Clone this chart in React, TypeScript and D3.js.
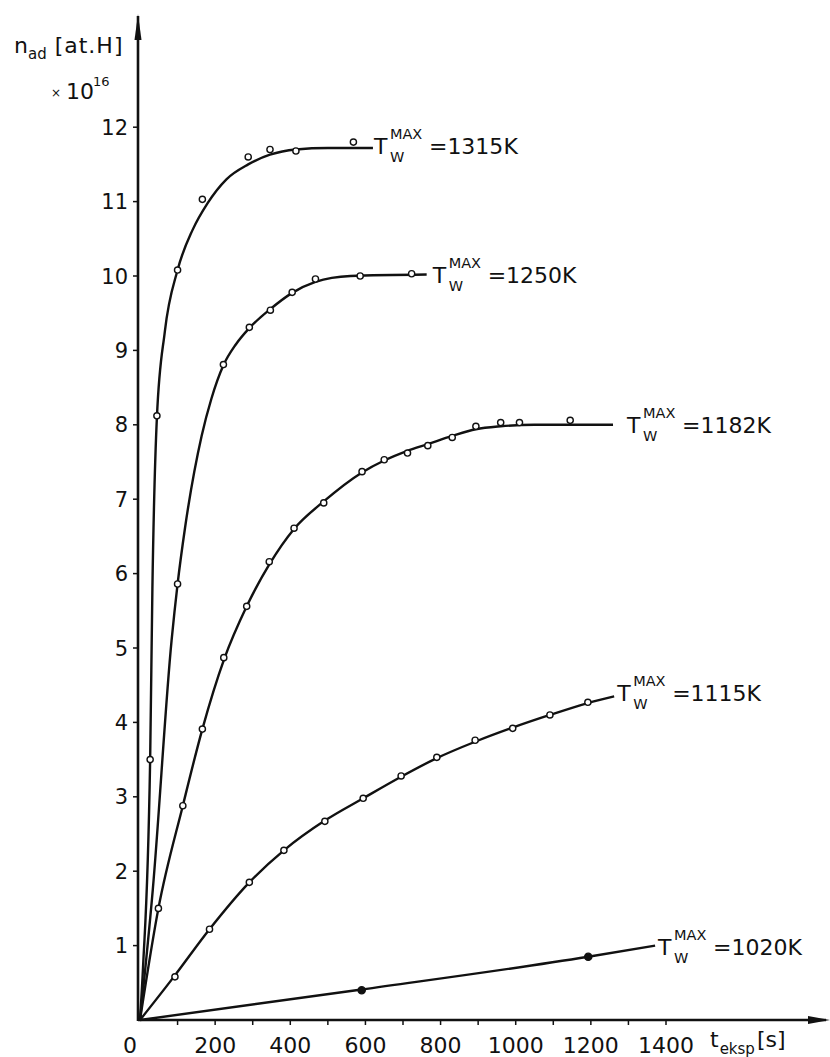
import React from "react";
import * as d3 from "d3";

// measured points (t [s], n_ad [x1e16 at.H])
const pts1315 = [[27, 3.5], [45, 8.12], [100, 10.08], [166, 11.03], [288, 11.6], [346, 11.7], [415, 11.68], [568, 11.8]];
const pts1250 = [[100, 5.86], [222, 8.81], [291, 9.31], [347, 9.54], [405, 9.78], [467, 9.96], [586, 10.0], [723, 10.03]];
const pts1182 = [[49, 1.5], [114, 2.88], [166, 3.91], [223, 4.87], [284, 5.56], [344, 6.16], [410, 6.61], [489, 6.95], [591, 7.37], [650, 7.53], [712, 7.62], [766, 7.72], [831, 7.83], [894, 7.98], [960, 8.03], [1010, 8.03], [1145, 8.06]];
const pts1115 = [[93, 0.58], [185, 1.22], [291, 1.85], [383, 2.28], [492, 2.67], [594, 2.98], [695, 3.28], [790, 3.53], [892, 3.76], [992, 3.92], [1091, 4.1], [1192, 4.27]];
const pts1020 = [[590, 0.4], [1193, 0.85]];

// hand drawn fitted curves
const fit1315 = [[0, 0], [8, 0.7], [27, 3.5], [33, 5.8], [45, 8.1], [66, 9.25], [100, 10.08], [140, 10.62], [180, 10.98], [230, 11.3], [288, 11.5], [346, 11.63], [415, 11.7], [500, 11.72], [620, 11.72]];
const fit1250 = [[0, 0], [34, 1.75], [84, 5.1], [100, 5.86], [120, 6.62], [164, 7.85], [190, 8.35], [222, 8.8], [255, 9.08], [291, 9.3], [348, 9.56], [404, 9.77], [467, 9.92], [560, 10.0], [763, 10.02]];
const fit1182 = [[0, 0], [49, 1.5], [114, 2.88], [166, 3.91], [224, 4.85], [284, 5.56], [345, 6.13], [410, 6.6], [489, 6.97], [591, 7.36], [650, 7.52], [712, 7.65], [766, 7.74], [831, 7.85], [894, 7.94], [960, 7.98], [1050, 8.0], [1259, 8.0]];
const fit1115 = [[0, 0], [93, 0.6], [185, 1.22], [291, 1.85], [383, 2.28], [492, 2.68], [594, 2.98], [695, 3.27], [790, 3.52], [892, 3.74], [992, 3.93], [1091, 4.1], [1192, 4.26], [1262, 4.35]];
const fit1020 = [[0, 0], [590, 0.41], [1193, 0.85], [1371, 1.0]];

const temps = ["1315", "1250", "1182", "1115", "1020"];
const yTicks = [1, 2, 3, 4, 5, 6, 7, 8, 9, 10, 11, 12];
const xTickLabels = [0, 200, 400, 600, 800, 1000, 1200, 1400];

const series = [
  { fit: fit1315, pts: pts1315, filled: false, lab: [1, 6] },
  { fit: fit1250, pts: pts1250, filled: false, lab: [6, 8] },
  { fit: fit1182, pts: pts1182, filled: false, lab: [14, 8] },
  { fit: fit1115, pts: pts1115, filled: false, lab: [3, 5] },
  { fit: fit1020, pts: pts1020, filled: true, lab: [3, 9] },
];

const W = 830;
const H = 1057;
const font = "'DejaVu Sans', sans-serif";
const ink = "#111";

const App = () => {
  const x = d3.scaleLinear().domain([0, 1400]).range([140, 666]);
  const y = d3.scaleLinear().domain([0, 12]).range([1020, 127.2]);

  const line = d3
    .line()
    .x((d) => x(d[0]))
    .y((d) => y(d[1]))
    .curve(d3.curveMonotoneX);

  const xMinor = d3.range(100, 1500, 100);

  return (
    <svg
      width={W}
      height={H}
      style={{ position: "absolute", left: 0, top: 0, background: "#fff" }}
      fontFamily={font}
      fill={ink}
    >
      {/* axes */}
      <line x1={x(0) - 2} y1={y(0)} x2={826} y2={y(0)} stroke={ink} strokeWidth={2.6} />
      <path d={`M830,${y(0)} L808,${y(0) - 4} L808,${y(0) + 4} Z`} fill={ink} />
      <line x1={138} y1={y(0) + 1} x2={138} y2={16} stroke={ink} strokeWidth={2.6} />
      <path d={`M138,14 L134.5,40 L141.5,40 Z`} fill={ink} />

      {yTicks.map((t) => (
        <g key={"y" + t}>
          <line x1={133} x2={138} y1={y(t)} y2={y(t)} stroke={ink} strokeWidth={1.5} />
          <text x={128} y={y(t) + 7.5} fontSize={21} textAnchor="end">
            {t}
          </text>
        </g>
      ))}

      {xMinor.map((t) => (
        <line key={"xm" + t} x1={x(t)} x2={x(t)} y1={y(0)} y2={y(0) + 5} stroke={ink} strokeWidth={1.5} />
      ))}
      {xTickLabels.map((t) => (
        <text
          key={"xl" + t}
          x={t === 0 ? x(0) - 3 : x(t)}
          y={1053}
          fontSize={22}
          textAnchor={t === 0 ? "end" : "middle"}
        >
          {t}
        </text>
      ))}

      {/* axis titles */}
      <text x={14} y={53} fontSize={22}>
        n<tspan fontSize={15} dy={6}>ad</tspan>
        <tspan dy={-6} dx={8} letterSpacing={1}>[at.H]</tspan>
      </text>
      <text x={51} y={97} fontSize={12}>×</text>
      <text x={66} y={99} fontSize={22}>10</text>
      <text x={93} y={86} fontSize={13}>16</text>

      <text x={710} y={1047} fontSize={22}>
        t<tspan fontSize={15} dy={7} dx={1}>eksp</tspan>
        <tspan dy={-7} dx={2}>[s]</tspan>
      </text>

      {/* curves */}
      {series.map((s, i) => {
        const end = s.fit[s.fit.length - 1];
        const xT = x(end[0]) + s.lab[0];
        const b = y(end[1]) + s.lab[1];
        return (
          <g key={"s" + i}>
            <path d={line(s.fit)} fill="none" stroke={ink} strokeWidth={2.4} strokeLinejoin="round" />
            {s.pts.map((p, j) => (
              <circle
                key={j}
                cx={x(p[0])}
                cy={y(p[1])}
                r={s.filled ? 3.6 : 3.1}
                fill={s.filled ? ink : "#fff"}
                stroke={ink}
                strokeWidth={1.4}
              />
            ))}
            <text x={xT} y={b} fontSize={22}>T</text>
            <text x={xT + 16} y={b - 15} fontSize={14.5}>MAX</text>
            <text x={xT + 16} y={b + 8} fontSize={14.5}>W</text>
            <text x={xT + 55} y={b} fontSize={22}>
              ={temps[i]}K
            </text>
          </g>
        );
      })}
    </svg>
  );
};

export default App;
